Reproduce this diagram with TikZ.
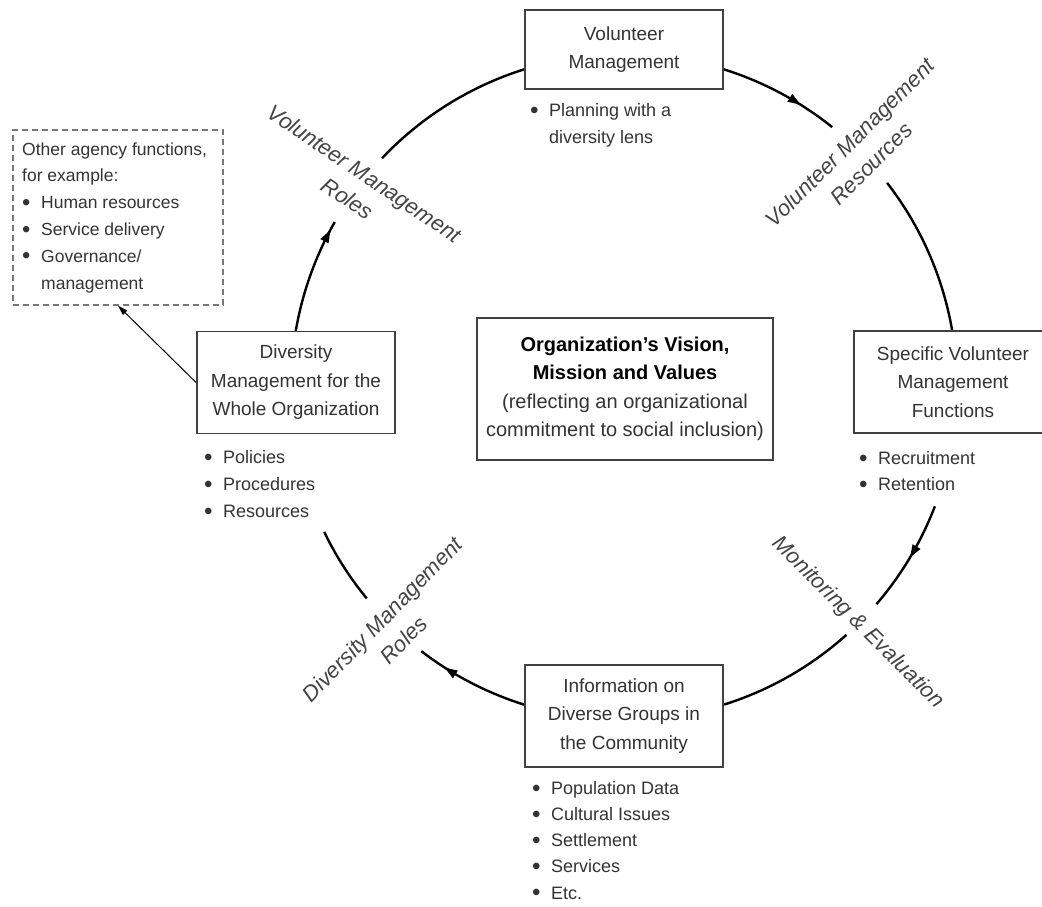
\documentclass[tikz,border=0pt]{standalone}
\usepackage{fontspec}
\setmainfont{Liberation Sans}
\usetikzlibrary{arrows.meta,decorations.markings}
\definecolor{txt}{HTML}{333333}
\definecolor{labc}{HTML}{444444}
\definecolor{boxc}{HTML}{404040}
\definecolor{dashc}{HTML}{777777}
\newcommand{\bul}{\makebox[19pt][l]{\raisebox{-0.1em}{\scalebox{1.35}{\textbullet}}}}
\newcommand{\bind}{\hspace*{19pt}}
\begin{document}
\begin{tikzpicture}[x=1pt,y=-1pt,
  box/.style={draw=boxc, line width=1.8pt, fill=white, minimum width=198pt, minimum height=102pt, align=center, text=txt, font=\fontsize{19}{28.5}\selectfont, inner sep=0pt},
  blist/.style={anchor=west, align=left, text=txt, font=\fontsize{18}{26.7}\selectfont, inner sep=0pt},
  lab/.style={align=center, text=labc, font=\itshape\fontsize{22}{30}\selectfont, inner sep=0pt},
  ring/.style={line width=2.4pt, black},
  arw/.style={postaction={decorate}, decoration={markings, mark=at position #1 with {\arrow{Triangle[length=13pt,width=8.5pt]}}}},
]
\useasboundingbox (0,0) rectangle (1042,907);
\def\cx{624}\def\cy{387}\def\R{333}
% ring segments (screen angles, clockwise)
\draw[ring] plot[domain=223.4:252.8, samples=30] ({\cx+\R*cos(\x)},{\cy+\R*sin(\x)});
\draw[ring, arw=0.69] plot[domain=287.3:308.7, samples=30] ({\cx+\R*cos(\x)},{\cy+\R*sin(\x)});
\draw[ring] plot[domain=322.2:350.3, samples=30] ({\cx+\R*cos(\x)},{\cy+\R*sin(\x)});
\draw[ring, arw=0.5] plot[domain=21:40.7, samples=30] ({\cx+\R*cos(\x)},{\cy+\R*sin(\x)});
\draw[ring] plot[domain=48.1:72.5, samples=30] ({\cx+\R*cos(\x)},{\cy+\R*sin(\x)});
\draw[ring, arw=0.76] plot[domain=107.2:127.5, samples=30] ({\cx+\R*cos(\x)},{\cy+\R*sin(\x)});
\draw[ring] plot[domain=140.6:154.2, samples=30] ({\cx+\R*cos(\x)},{\cy+\R*sin(\x)});
\draw[ring, arw=0.93] plot[domain=188.1:209.7, samples=30] ({\cx+\R*cos(\x)},{\cy+\R*sin(\x)});
% boxes
\node[box, minimum height=79pt] (vm) at (624,49.5) {Volunteer\\Management};
\node[box] (dm) at (296,382.5) {Diversity\\Management for the\\Whole Organization};
\node[box] (svm) at (953,382) {Specific Volunteer\\Management\\Functions};
\node[box] (info) at (624,716) {Information on\\Diverse Groups in\\the Community};
\node[box, minimum width=296pt, minimum height=142pt, font=\fontsize{20}{28.5}\selectfont] (core) at (625,389)
  {\textbf{\color{black}Organization’s Vision,}\\\textbf{\color{black}Mission and Values}\\(reflecting an organizational\\commitment to social inclusion)};
% bullet lists
\node[blist] (vml) at (530,125.5) {\bul Planning with a\\\bind diversity lens};
\node[blist] (dml) at (204,485) {\bul Policies\\\bul Procedures\\\bul Resources};
\node[blist] (svml) at (859,472) {\bul Recruitment\\\bul Retention};
\node[blist, font=\fontsize{18}{26.2}\selectfont] (infol) at (532,841) {\bul Population Data\\\bul Cultural Issues\\\bul Settlement\\\bul Services\\\bul Etc.};
% other functions
\node[draw=dashc, dash pattern=on 6pt off 4pt, line width=1.4pt, minimum width=210pt, minimum height=175pt, inner sep=0pt] (other) at (118,217.5) {};
\node[blist, font=\fontsize{17.5}{26.8}\selectfont] (otherl) at (22,217.5) {Other agency functions,\\for example:\\\bul Human resources\\\bul Service delivery\\\bul Governance/\\\bind management};
\draw[line width=1pt, -{Triangle[length=10pt,width=6pt]}] (dm.west) -- (other.south);
% ring labels
\node[lab, rotate=-34] (vmroles) at (356,186) {Volunteer Management\\Roles};
\node[lab, rotate=45] (vmres) at (860.5,153) {Volunteer Management\\Resources};
\node[lab, rotate=46] (dmroles) at (393,629.5) {Diversity Management\\Roles};
\node[lab, rotate=-45] (me) at (858,623) {Monitoring \& Evaluation};
\end{tikzpicture}
\end{document}
